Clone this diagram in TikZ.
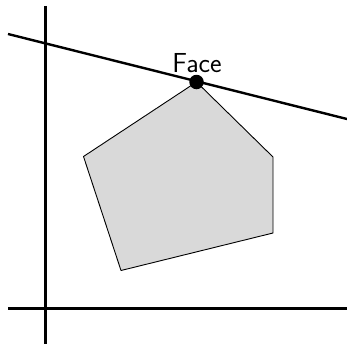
\documentclass[tikz,border=0pt]{standalone}
\usepackage{fontspec}
\begin{document}
\begin{tikzpicture}[x=1pt,y=-1pt,
  axis/.style={line width=3pt},
  hyper/.style={line width=2.4pt},
  poly/.style={fill={rgb,255:red,217;green,217;blue,217},draw=black,line width=0.9pt,line join=round},
  dot/.style={circle,fill=black,inner sep=0pt,minimum size=14.5pt}]
\useasboundingbox (0,0) rectangle (347,345);
\coordinate (vt) at (45.5,6);
\coordinate (vb) at (45.5,344);
\coordinate (hl) at (8,308.5);
\coordinate (hr) at (347,308.5);
\coordinate (la) at (8,34);
\coordinate (lb) at (347,119);
\draw[poly] (196.5,82) -- (273,157) -- (273,233) -- (121,270.5) -- (83.5,156.5) -- cycle;
\draw[axis] (vt) -- (vb);
\draw[axis] (hl) -- (hr);
\draw[hyper] (la) -- (lb);
\node[dot] (p) at (196.5,82) {};
\node[font=\sffamily\fontsize{27.5}{32}\selectfont, anchor=base, inner sep=0pt] (face) at (197,72) {Face};
\end{tikzpicture}
\end{document}
